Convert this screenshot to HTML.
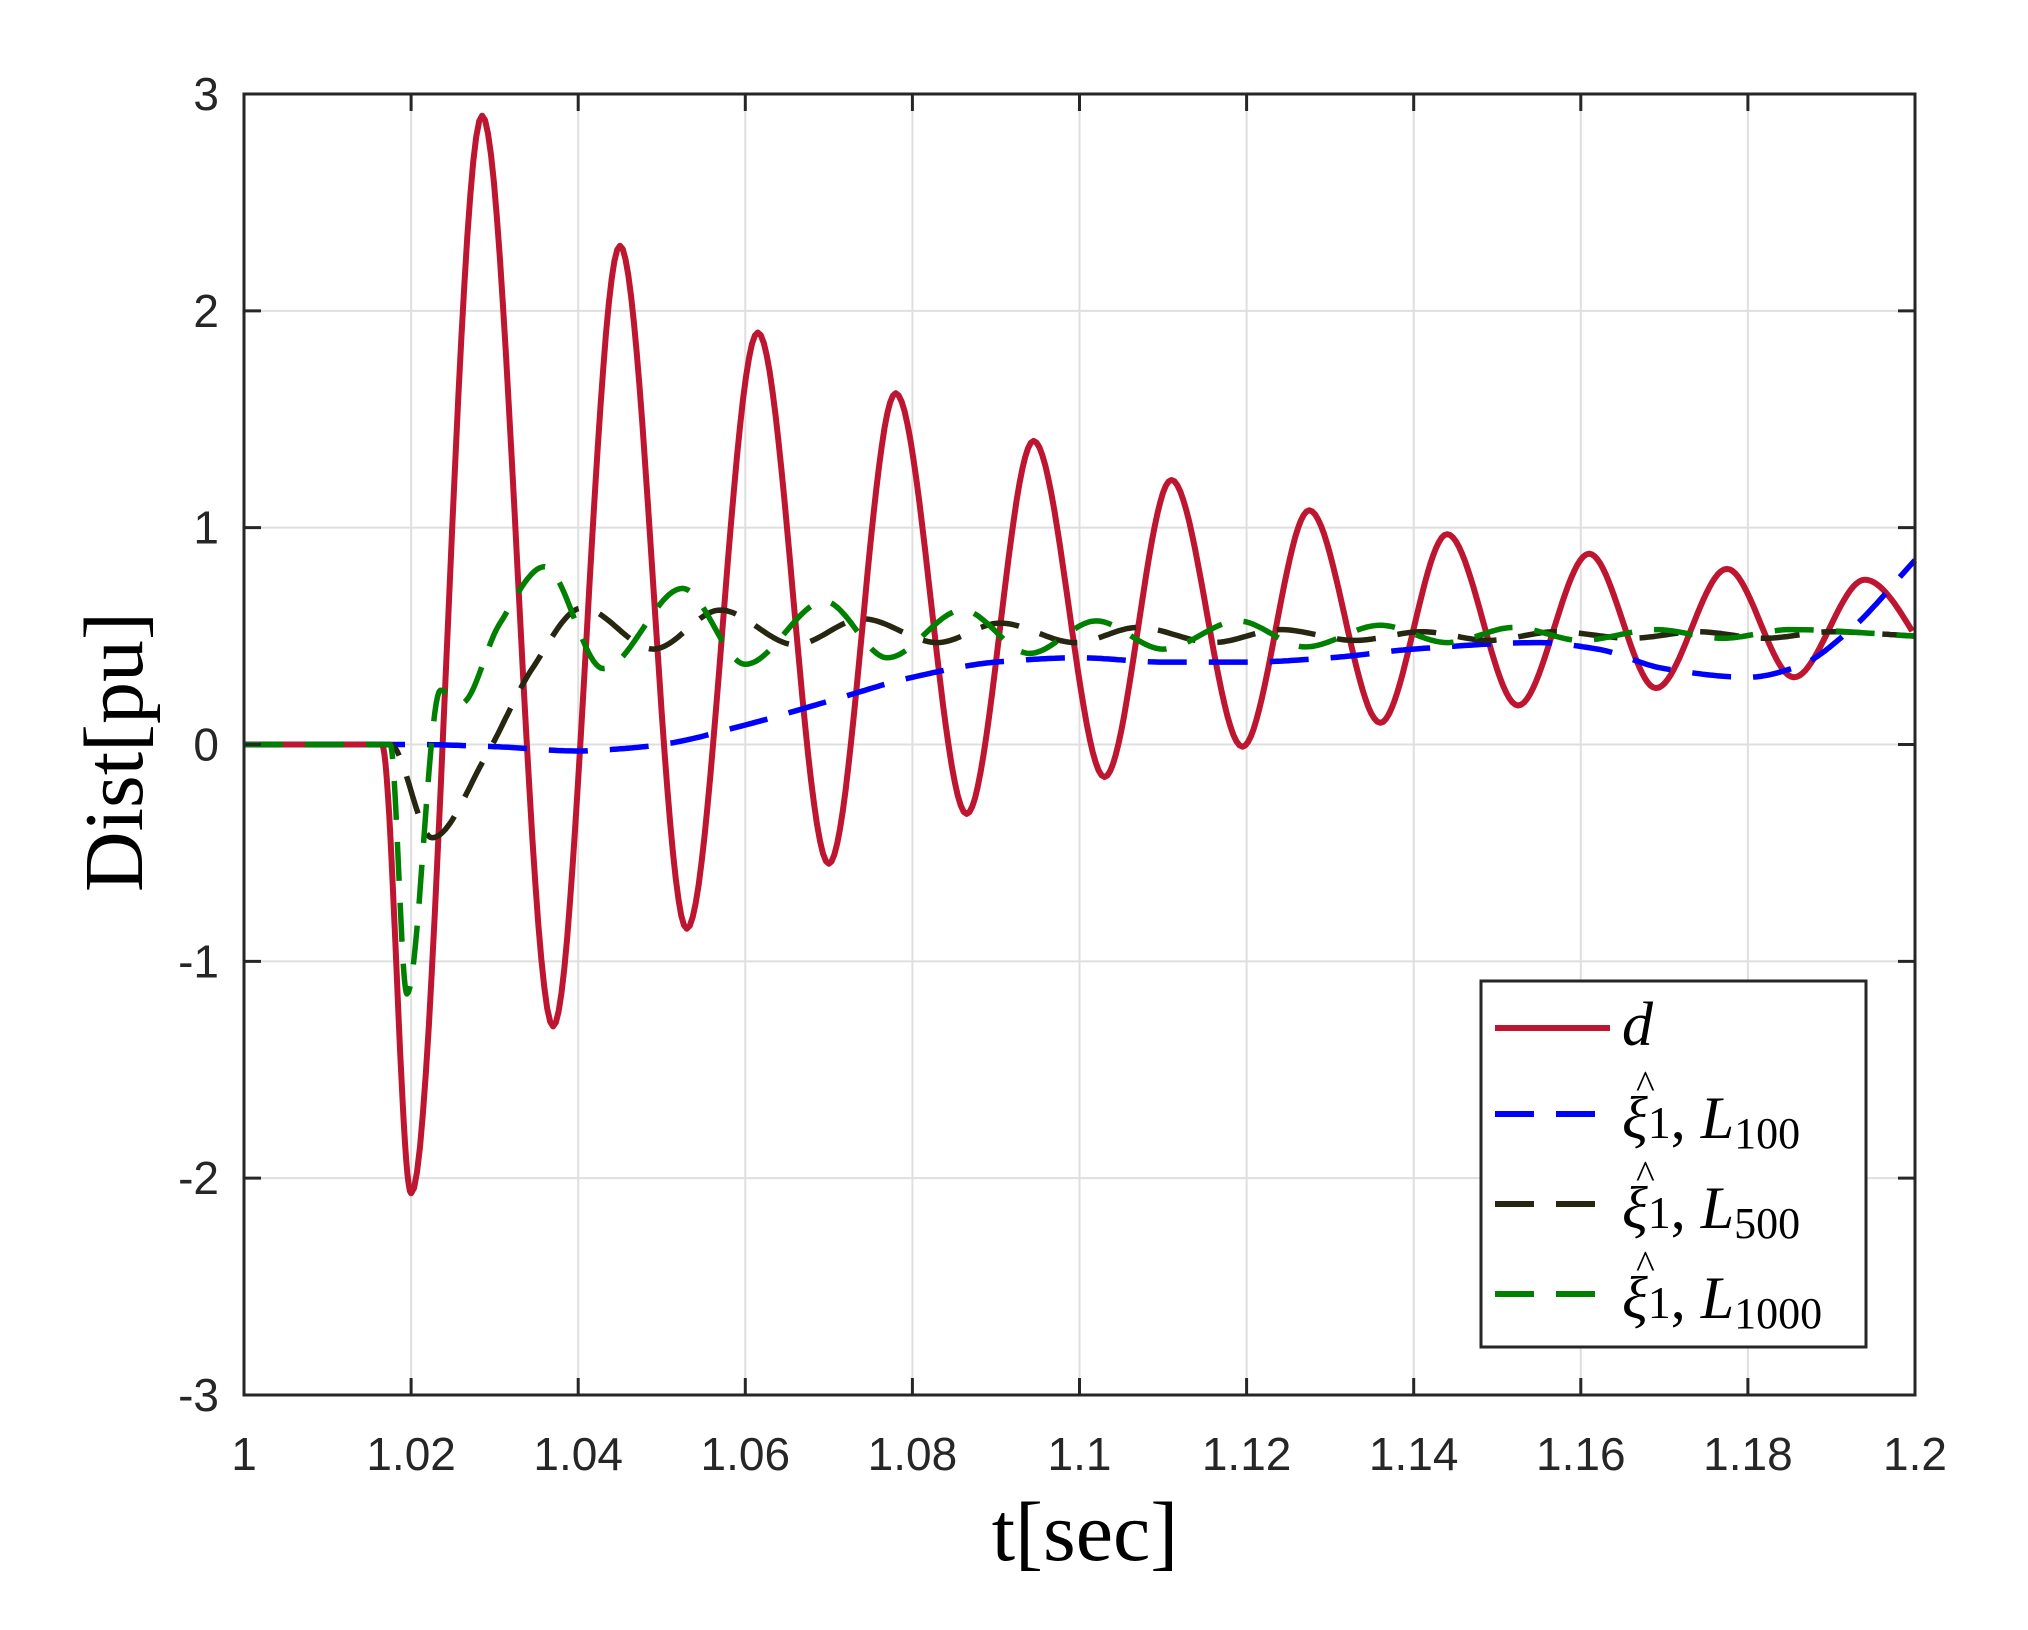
<!DOCTYPE html>
<html><head><meta charset="utf-8"><style>
html,body{margin:0;padding:0;background:#fff;}
svg{display:block;}
.tk{font-family:"Liberation Sans",sans-serif;font-size:46px;fill:#262626;}
.ser{font-family:"Liberation Serif",serif;fill:#000;}
</style></head><body>
<svg id="s" width="2028" height="1630" xmlns="http://www.w3.org/2000/svg">
<rect width="2028" height="1630" fill="#fff"/>
<g id="grid" stroke="#dfdfdf" stroke-width="2"></g>
<g id="series" fill="none" stroke-linejoin="round"></g>
<g id="axes"></g>
<g id="labels"></g>
<text class="ser" x="1085" y="1560" font-size="84" text-anchor="middle">t[sec]</text>
<text class="ser" font-size="84" text-anchor="middle" transform="translate(142,752) rotate(-90)">Dist[pu]</text>
<rect x="1481" y="981" width="385" height="366" fill="#fff" stroke="#262626" stroke-width="3"/>
<line x1="1495" y1="1028" x2="1610" y2="1028" stroke="#BE1630" stroke-width="6"/>
<line x1="1495" y1="1114" x2="1610" y2="1114" stroke="#0000FF" stroke-width="6" stroke-dasharray="39,22"/>
<line x1="1495" y1="1204" x2="1610" y2="1204" stroke="#262611" stroke-width="6" stroke-dasharray="39,22"/>
<line x1="1495" y1="1294" x2="1610" y2="1294" stroke="#008000" stroke-width="6" stroke-dasharray="39,22"/>
<text class="ser" x="1622" y="1045" font-size="62" font-style="italic">d</text>
<g class="ser" font-size="60">
<text x="1622" y="1138"><tspan font-style="italic">ξ</tspan><tspan font-size="46">1</tspan>, <tspan font-style="italic">L</tspan><tspan font-size="44" dy="10">100</tspan></text>
<text x="1636" y="1098" font-size="40">^</text>
<text x="1622" y="1228"><tspan font-style="italic">ξ</tspan><tspan font-size="46">1</tspan>, <tspan font-style="italic">L</tspan><tspan font-size="44" dy="10">500</tspan></text>
<text x="1636" y="1188" font-size="40">^</text>
<text x="1622" y="1318"><tspan font-style="italic">ξ</tspan><tspan font-size="46">1</tspan>, <tspan font-style="italic">L</tspan><tspan font-size="44" dy="10">1000</tspan></text>
<text x="1636" y="1278" font-size="40">^</text>
</g>
</svg>
<script>
var NS="http://www.w3.org/2000/svg";
var X0=244,X1=1915,Y0=94,Y1=1395;
function sx(t){return X0+(t-1)/0.2*(X1-X0);}
function sy(v){return Y0+(3-v)/6*(Y1-Y0);}
function el(p,n,a){var e=document.createElementNS(NS,n);for(var k in a)e.setAttribute(k,a[k]);p.appendChild(e);return e;}
var g=document.getElementById('grid'),ax=document.getElementById('axes'),lb=document.getElementById('labels');
var xt=[1,1.02,1.04,1.06,1.08,1.1,1.12,1.14,1.16,1.18,1.2],xl=["1","1.02","1.04","1.06","1.08","1.1","1.12","1.14","1.16","1.18","1.2"];
xt.forEach(function(t,i){var x=sx(t);
 if(i>0&&i<10)el(g,'line',{x1:x,y1:Y0,x2:x,y2:Y1});
 el(ax,'line',{x1:x,y1:Y1,x2:x,y2:Y1-17,stroke:'#262626','stroke-width':3});
 el(ax,'line',{x1:x,y1:Y0,x2:x,y2:Y0+17,stroke:'#262626','stroke-width':3});
 var tx=el(lb,'text',{x:x,y:1470,'class':'tk','text-anchor':'middle'});tx.textContent=xl[i];});
for(var v=-3;v<=3;v++){var y=sy(v);
 if(v>-3&&v<3)el(g,'line',{x1:X0,y1:y,x2:X1,y2:y});
 el(ax,'line',{x1:X0,y1:y,x2:X0+17,y2:y,stroke:'#262626','stroke-width':3});
 el(ax,'line',{x1:X1,y1:y,x2:X1-17,y2:y,stroke:'#262626','stroke-width':3});
 var tx=el(lb,'text',{x:219,y:y+16,'class':'tk','text-anchor':'end'});tx.textContent=String(v);}
el(ax,'rect',{x:X0,y:Y0,width:X1-X0,height:Y1-Y0,fill:'none',stroke:'#262626','stroke-width':3});
function path(pts,col,dash,w){
 var n=pts.length,m=[],dl=[];
 for(var i=0;i<n-1;i++)dl.push((pts[i+1][1]-pts[i][1])/(pts[i+1][0]-pts[i][0]));
 for(var i=0;i<n;i++){
  if(i==0||i==n-1){m.push(i==0?0:dl[n-2]);continue;}
  var a=dl[i-1],b=dl[i];
  if(a*b<=0)m.push(0);else{var h0=pts[i][0]-pts[i-1][0],h1=pts[i+1][0]-pts[i][0];var w1=2*h1+h0,w2=h1+2*h0;m.push((w1+w2)/(w1/a+w2/b));}
 }
 var d="",first=true;
 for(var i=0;i<n-1;i++){var a=pts[i],b=pts[i+1],h=b[0]-a[0];
  for(var k=0;k<=24;k++){var s=k/24,t=a[0]+h*s;if(t>1.2)break;
   var h00=2*s*s*s-3*s*s+1,h10=s*s*s-2*s*s+s,h01=-2*s*s*s+3*s*s,h11=s*s*s-s*s;
   var v=h00*a[1]+h10*h*m[i]+h01*b[1]+h11*h*m[i+1];
   d+=(first?"M":"L")+sx(t).toFixed(1)+","+sy(v).toFixed(1);first=false;}}
 var at={d:d,stroke:col,'stroke-width':w};if(dash)at['stroke-dasharray']='39,22';
 el(document.getElementById('series'),'path',at);}
var D=[[1,0],[1.0165,0],[1.020,-2.07],[1.0285,2.9],[1.037,-1.3],[1.045,2.3],[1.053,-0.85],[1.0615,1.9],[1.070,-0.55],[1.078,1.62],[1.0865,-0.32],[1.0945,1.4],[1.103,-0.15],[1.111,1.22],[1.1195,-0.01],[1.1275,1.08],[1.136,0.1],[1.144,0.97],[1.1525,0.18],[1.161,0.88],[1.169,0.26],[1.1775,0.81],[1.1855,0.31],[1.194,0.76],[1.2025,0.36]];
var B=[[1,0],[1.02,0],[1.03,-0.01],[1.04,-0.03],[1.045,-0.02],[1.05,0],[1.06,0.09],[1.07,0.2],[1.08,0.31],[1.09,0.38],[1.1,0.4],[1.11,0.38],[1.12,0.38],[1.13,0.4],[1.14,0.44],[1.155,0.47],[1.162,0.44],[1.17,0.35],[1.18,0.31],[1.186,0.36],[1.192,0.52],[1.2,0.85]];
var K=[[1,0],[1.0175,0],[1.0225,-0.43],[1.029,-0.05],[1.0345,0.35],[1.0405,0.63],[1.049,0.44],[1.057,0.62],[1.066,0.46],[1.074,0.58],[1.083,0.47],[1.0905,0.56],[1.0995,0.47],[1.107,0.54],[1.116,0.47],[1.124,0.53],[1.133,0.48],[1.141,0.52],[1.149,0.48],[1.157,0.52],[1.166,0.49],[1.174,0.52],[1.182,0.49],[1.19,0.52],[1.2,0.5]];
var G=[[1,0],[1.0175,0],[1.0195,-1.15],[1.0235,0.25],[1.026,0.19],[1.0305,0.55],[1.036,0.82],[1.043,0.35],[1.0525,0.72],[1.060,0.37],[1.0695,0.66],[1.077,0.4],[1.086,0.62],[1.094,0.42],[1.102,0.57],[1.110,0.44],[1.119,0.57],[1.127,0.45],[1.136,0.55],[1.144,0.47],[1.152,0.54],[1.160,0.48],[1.169,0.53],[1.177,0.49],[1.185,0.53],[1.2,0.5]];
path(D,'#BE1630',false,6);
path(B,'#0000FF',true,5.5);
path(K,'#262611',true,5.5);
path(G,'#008000',true,5.5);
</script>
</body></html>
